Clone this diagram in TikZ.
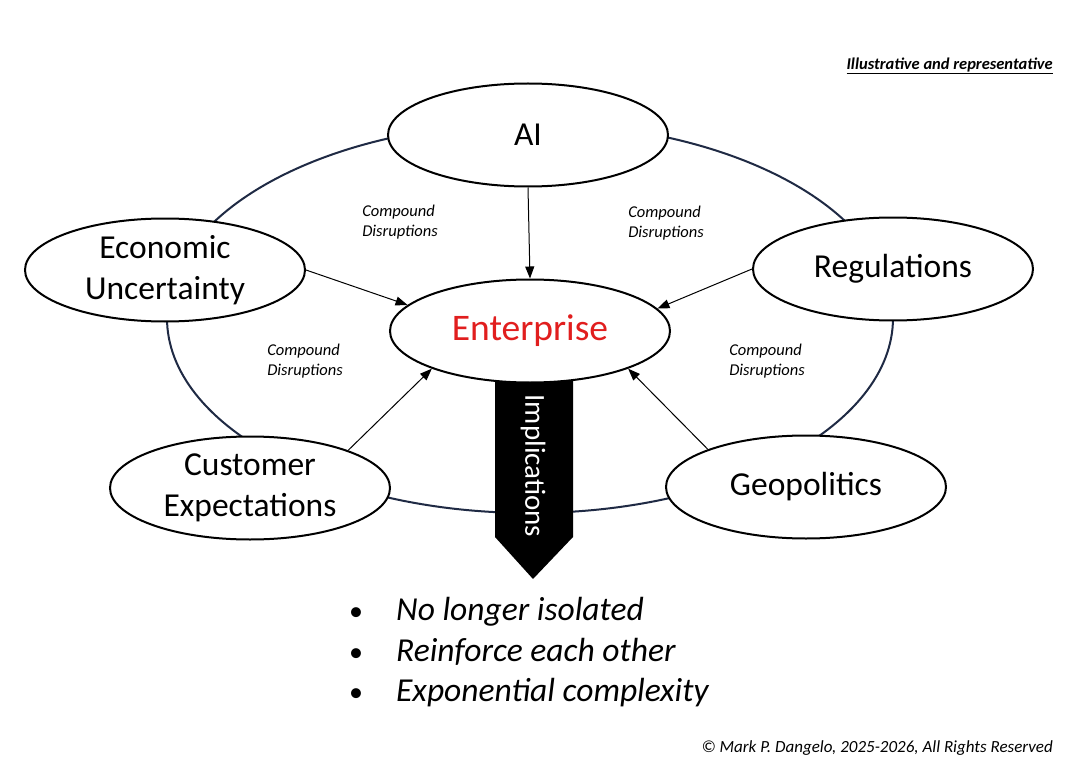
\documentclass[tikz,border=0pt]{standalone}
\usepackage{fontspec}
\setmainfont{Carlito}
\usetikzlibrary{arrows.meta,shapes.geometric}
\definecolor{ringblue}{RGB}{31,42,68}
\definecolor{entred}{RGB}{225,30,30}
\tikzset{
  oval/.style={ellipse, draw=black, line width=2pt, fill=white, inner sep=0pt,
    minimum width=280pt, minimum height=103pt, align=center,
    font=\fontsize{33.5}{40.5}\selectfont},
  arr/.style={line width=1pt, -{Triangle[length=12pt,width=9pt]}},
  cdlabel/.style={align=left, font=\fontsize{16.5}{20}\selectfont\itshape, inner sep=0pt},
}
\begin{document}
\begin{tikzpicture}[x=1pt,y=-1pt]
\useasboundingbox[fill=white] (0,0) rectangle (1077,765);
% ring
\draw[ringblue, line width=2pt] (530,318) ellipse [x radius=363, y radius=195];
% implications banner
\fill[black] (495,360) -- (573,360) -- (573,537) -- (533,579) -- (495,537) -- cycle;
\node[rotate=-90, text=white, font=\fontsize{29}{30}\selectfont, inner sep=0pt] (impl) at (533,466) {Implications};
% ellipses
\node[oval] (ai)  at (528,135) {AI};
\node[oval, font=\fontsize{37.5}{40}\selectfont, text=entred] (ent) at (530,331) {Enterprise};
\node[oval] (eco) at (165,270) {Economic\\Uncertainty};
\node[oval] (reg) at (893,269) {Regulations};
\node[oval] (cus) at (250,488) {Customer\\Expectations};
\node[oval] (geo) at (806,487) {Geopolitics};
% arrows
\draw[arr] (ai.south) -- (ent.north);
\draw[arr] (eco.east) -- (ent.168);
\draw[arr] (reg.west) -- (ent.10);
\draw[arr] (cus.21) -- (ent.201);
\draw[arr] (geo.159) -- (ent.339);
% compound labels
\node[cdlabel] (cd1) at (400,222) {Compound\\Disruptions};
\node[cdlabel] (cd2) at (666,223) {Compound\\Disruptions};
\node[cdlabel] (cd3) at (305,361) {Compound\\Disruptions};
\node[cdlabel] (cd4) at (767,361) {Compound\\Disruptions};
% bullets
\node[anchor=north west, inner sep=0pt, font=\fontsize{33.5}{40.5}\selectfont] (bul) at (349,592)
  {\begin{tabular}{@{}l@{\hspace{33pt}}l@{}}
   {\fontsize{28}{30}\selectfont\textbullet} & \textit{No longer isolated}\\
   {\fontsize{28}{30}\selectfont\textbullet} & \textit{Reinforce each other}\\
   {\fontsize{28}{30}\selectfont\textbullet} & \textit{Exponential complexity}
   \end{tabular}};
% header and footer
\node[anchor=east, inner sep=0pt, font=\fontsize{16.5}{18}\selectfont\bfseries\itshape] (hdr) at (1053,66) {\underline{Illustrative and representative}};
\node[anchor=east, inner sep=0pt, font=\fontsize{17}{19}\selectfont\itshape] (ftr) at (1053,748) {\textcopyright{} Mark P. Dangelo, 2025-2026, All Rights Reserved};
\end{tikzpicture}
\end{document}
